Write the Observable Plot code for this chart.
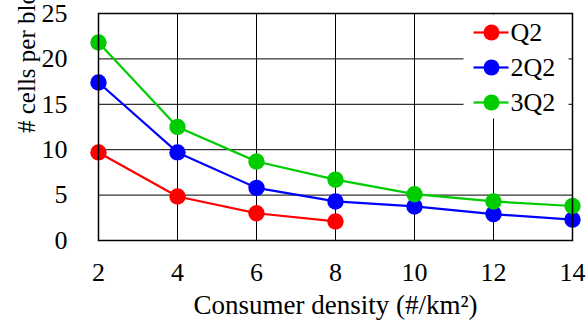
<!DOCTYPE html>
<html>
<head>
<meta charset="utf-8">
<script src="https://cdn.jsdelivr.net/npm/d3@7"></script>
<script src="https://cdn.jsdelivr.net/npm/@observablehq/plot@0.6"></script>
<style>
  html, body { margin: 0; padding: 0; background: #fff; }
  svg { display: block; }
</style>
</head>
<body>
<div id="chart"></div>
<script>
const densities = [2, 4, 6, 8, 10, 12, 14];
const seriesNames = ["Q2", "2Q2", "3Q2"];
const seriesColors = ["#ff0000", "#0000ff", "#00cc00"];
const q2 = [9.7, 4.85, 3.0, 2.1];
const q2x2 = [17.4, 9.7, 5.8, 4.3, 3.75, 2.9, 2.3];
const q2x3 = [21.8, 12.5, 8.7, 6.7, 5.1, 4.3, 3.8];
const yTicks = [0, 5, 10, 15, 20, 25];
const xTicks = [2, 4, 6, 8, 10, 12, 14];
const xLabel = "Consumer density (\u0023/km\u00b2)";
const yLabel = "\u0023 cells per block";

const all = [q2, q2x2, q2x3];
const data = [];
all.forEach((vals, si) => vals.forEach((v, i) => data.push({series: seriesNames[si], x: densities[i], y: v})));

const font = "Liberation Serif, DejaVu Serif, serif";
const W = 587, H = 329, ML = 98, MR = 15, MT = 13, MB = 89;
const FW = W - ML - MR, FH = H - MT - MB;

// legend (pixel offsets inside the frame)
const legendMarks = [];
legendMarks.push(Plot.frame({fill: "#fff", stroke: "none", insetLeft: 365, insetRight: 4, insetTop: 1, insetBottom: FH - 105}));
seriesNames.forEach((name, i) => {
  const cy = 19 + i * 35;
  legendMarks.push(Plot.frame({fill: seriesColors[i], stroke: "none", insetLeft: 375, insetRight: FW - 410, insetTop: cy - 1.1, insetBottom: FH - cy - 1.1}));
  legendMarks.push(Plot.dot([name], {frameAnchor: "top-left", dx: 393, dy: cy, r: 8, fill: seriesColors[i]}));
  legendMarks.push(Plot.text([name], {frameAnchor: "top-left", dx: 412, dy: cy, text: d => d, textAnchor: "start", lineAnchor: "middle", fontSize: 26, fontFamily: font, fill: "#000"}));
});

const chart = Plot.plot({
  width: W, height: H, marginLeft: ML, marginRight: MR, marginTop: MT, marginBottom: MB,
  style: {fontFamily: font, fontSize: "26px", color: "#000", background: "#fff"},
  x: {domain: [2, 14], label: null},
  y: {domain: [0, 25], label: null},
  color: {domain: seriesNames, range: seriesColors},
  marks: [
    Plot.gridX(xTicks, {stroke: "#000", strokeOpacity: 1, strokeWidth: 1}),
    Plot.gridY(yTicks, {stroke: "#000", strokeOpacity: 1, strokeWidth: 1}),
    Plot.axisX(xTicks, {tickSize: 0, tickPadding: 22, fontSize: 26, fontFamily: font, label: null}),
    Plot.axisY(yTicks, {tickSize: 0, tickPadding: 31, fontSize: 26, fontFamily: font, label: null}),
    Plot.line(data, {x: "x", y: "y", stroke: "series", z: "series", strokeWidth: 2.2}),
    Plot.dot(data, {x: "x", y: "y", fill: "series", r: 8.2}),
    ...legendMarks,
    Plot.text([xLabel], {frameAnchor: "bottom", dy: 73, text: d => d, fontSize: 27, fontFamily: font, fill: "#000"}),
    Plot.text([yLabel], {frameAnchor: "left", dx: -72, dy: 6, rotate: -90, text: d => d, fontSize: 25, fontFamily: font, fill: "#000"}),
    Plot.frame({stroke: "#000", strokeWidth: 1.5})
  ]
});
document.getElementById("chart").appendChild(chart);
</script>
</body>
</html>
